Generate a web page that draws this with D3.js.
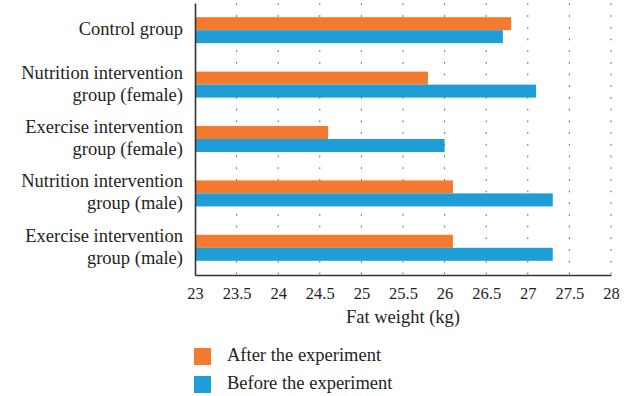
<!DOCTYPE html>
<html>
<head>
<meta charset="utf-8">
<script src="https://cdn.jsdelivr.net/npm/d3@7"></script>
<style>
  body { margin: 0; background: #fff; }
  svg { display: block; font-family: "Liberation Serif", "DejaVu Serif", serif; }
</style>
</head>
<body>
<svg id="chart" width="628" height="396"></svg>
<script>
// Group names (each line of a label is a separate entry)
const categories = [
  ["Control group"],
  ["Nutrition intervention", "group (female)"],
  ["Exercise intervention", "group (female)"],
  ["Nutrition intervention", "group (male)"],
  ["Exercise intervention", "group (male)"]
];
const seriesNames = ["After the experiment", "Before the experiment"];
const afterValues = [26.8, 25.8, 24.6, 26.1, 26.1];
const beforeValues = [26.7, 27.1, 26.0, 27.3, 27.3];
const tickValues = [23, 23.5, 24, 24.5, 25, 25.5, 26, 26.5, 27, 27.5, 28];
const colors = ["#f47a30", "#1e9dd6"];

const svg = d3.select("#chart");
const textColor = "#231f20";
const labelFont = "18.5px";
const tickFont = "16.5px";

const x = d3.scaleLinear().domain([23, 28]).range([195, 611]);
const catKeys = categories.map(c => c.join(" "));
const y = d3.scaleBand().domain(catKeys).range([3, 275])
  .paddingInner(0.522).paddingOuter(0.261);
const ySub = d3.scaleBand().domain(seriesNames).range([0, y.bandwidth()]);

// dotted vertical gridlines
svg.append("g").selectAll("line")
  .data(tickValues.slice(1))
  .join("line")
  .attr("x1", d => x(d)).attr("x2", d => x(d))
  .attr("y1", 3).attr("y2", 275)
  .attr("stroke", "#555")
  .attr("stroke-width", 1)
  .attr("stroke-dasharray", "1.6,10.1")
  .attr("stroke-dashoffset", -0.5);

// bars
const rows = catKeys.map((k, i) => ({ key: k, values: [afterValues[i], beforeValues[i]] }));
const groups = svg.append("g").selectAll("g")
  .data(rows)
  .join("g")
  .attr("transform", d => `translate(0,${y(d.key)})`);
groups.selectAll("rect")
  .data(d => d.values.map((v, j) => ({ name: seriesNames[j], value: v, j })))
  .join("rect")
  .attr("x", x(23))
  .attr("y", d => ySub(d.name))
  .attr("width", d => x(d.value) - x(23))
  .attr("height", ySub.bandwidth())
  .attr("fill", d => colors[d.j]);

// bottom axis
const xAxis = svg.append("g")
  .attr("transform", "translate(0,275)")
  .call(d3.axisBottom(x).tickValues(tickValues).tickSize(0).tickPadding(12)
    .tickFormat(d => String(d)));
xAxis.select(".domain").attr("stroke", "#333").attr("stroke-width", 1.6);
xAxis.selectAll("text")
  .attr("fill", textColor)
  .style("font-size", tickFont)
  .style("font-family", "'Liberation Serif', serif");

// left axis with wrapped labels
const yAxis = svg.append("g")
  .attr("transform", "translate(195,0)")
  .call(d3.axisLeft(y).tickSize(0).tickPadding(12));
yAxis.select(".domain").attr("stroke", "#333").attr("stroke-width", 1.6);
yAxis.selectAll(".tick text")
  .attr("fill", textColor)
  .style("font-size", labelFont)
  .style("font-family", "'Liberation Serif', serif")
  .attr("dy", null)
  .each(function (d, i) {
    const lines = categories[i];
    const t = d3.select(this).text(null);
    const lh = 22;
    lines.forEach((line, k) => {
      t.append("tspan")
        .attr("x", -12)
        .attr("dy", k === 0 ? ((-(lines.length - 1) * lh) / 2 + 5) : lh)
        .text(line);
    });
  });

// axis title
svg.append("text")
  .attr("x", (x(23) + x(28)) / 2)
  .attr("y", 323)
  .attr("text-anchor", "middle")
  .attr("fill", textColor)
  .style("font-size", labelFont)
  .text("Fat weight (kg)");

// legend
const legend = svg.append("g").selectAll("g")
  .data(seriesNames)
  .join("g")
  .attr("transform", (d, i) => `translate(194,${348 + i * 28})`);
legend.append("rect")
  .attr("width", 17).attr("height", 17)
  .attr("fill", (d, i) => colors[i]);
legend.append("text")
  .attr("x", 33).attr("y", 13)
  .attr("fill", textColor)
  .style("font-size", labelFont)
  .text(d => d);
</script>
</body>
</html>
